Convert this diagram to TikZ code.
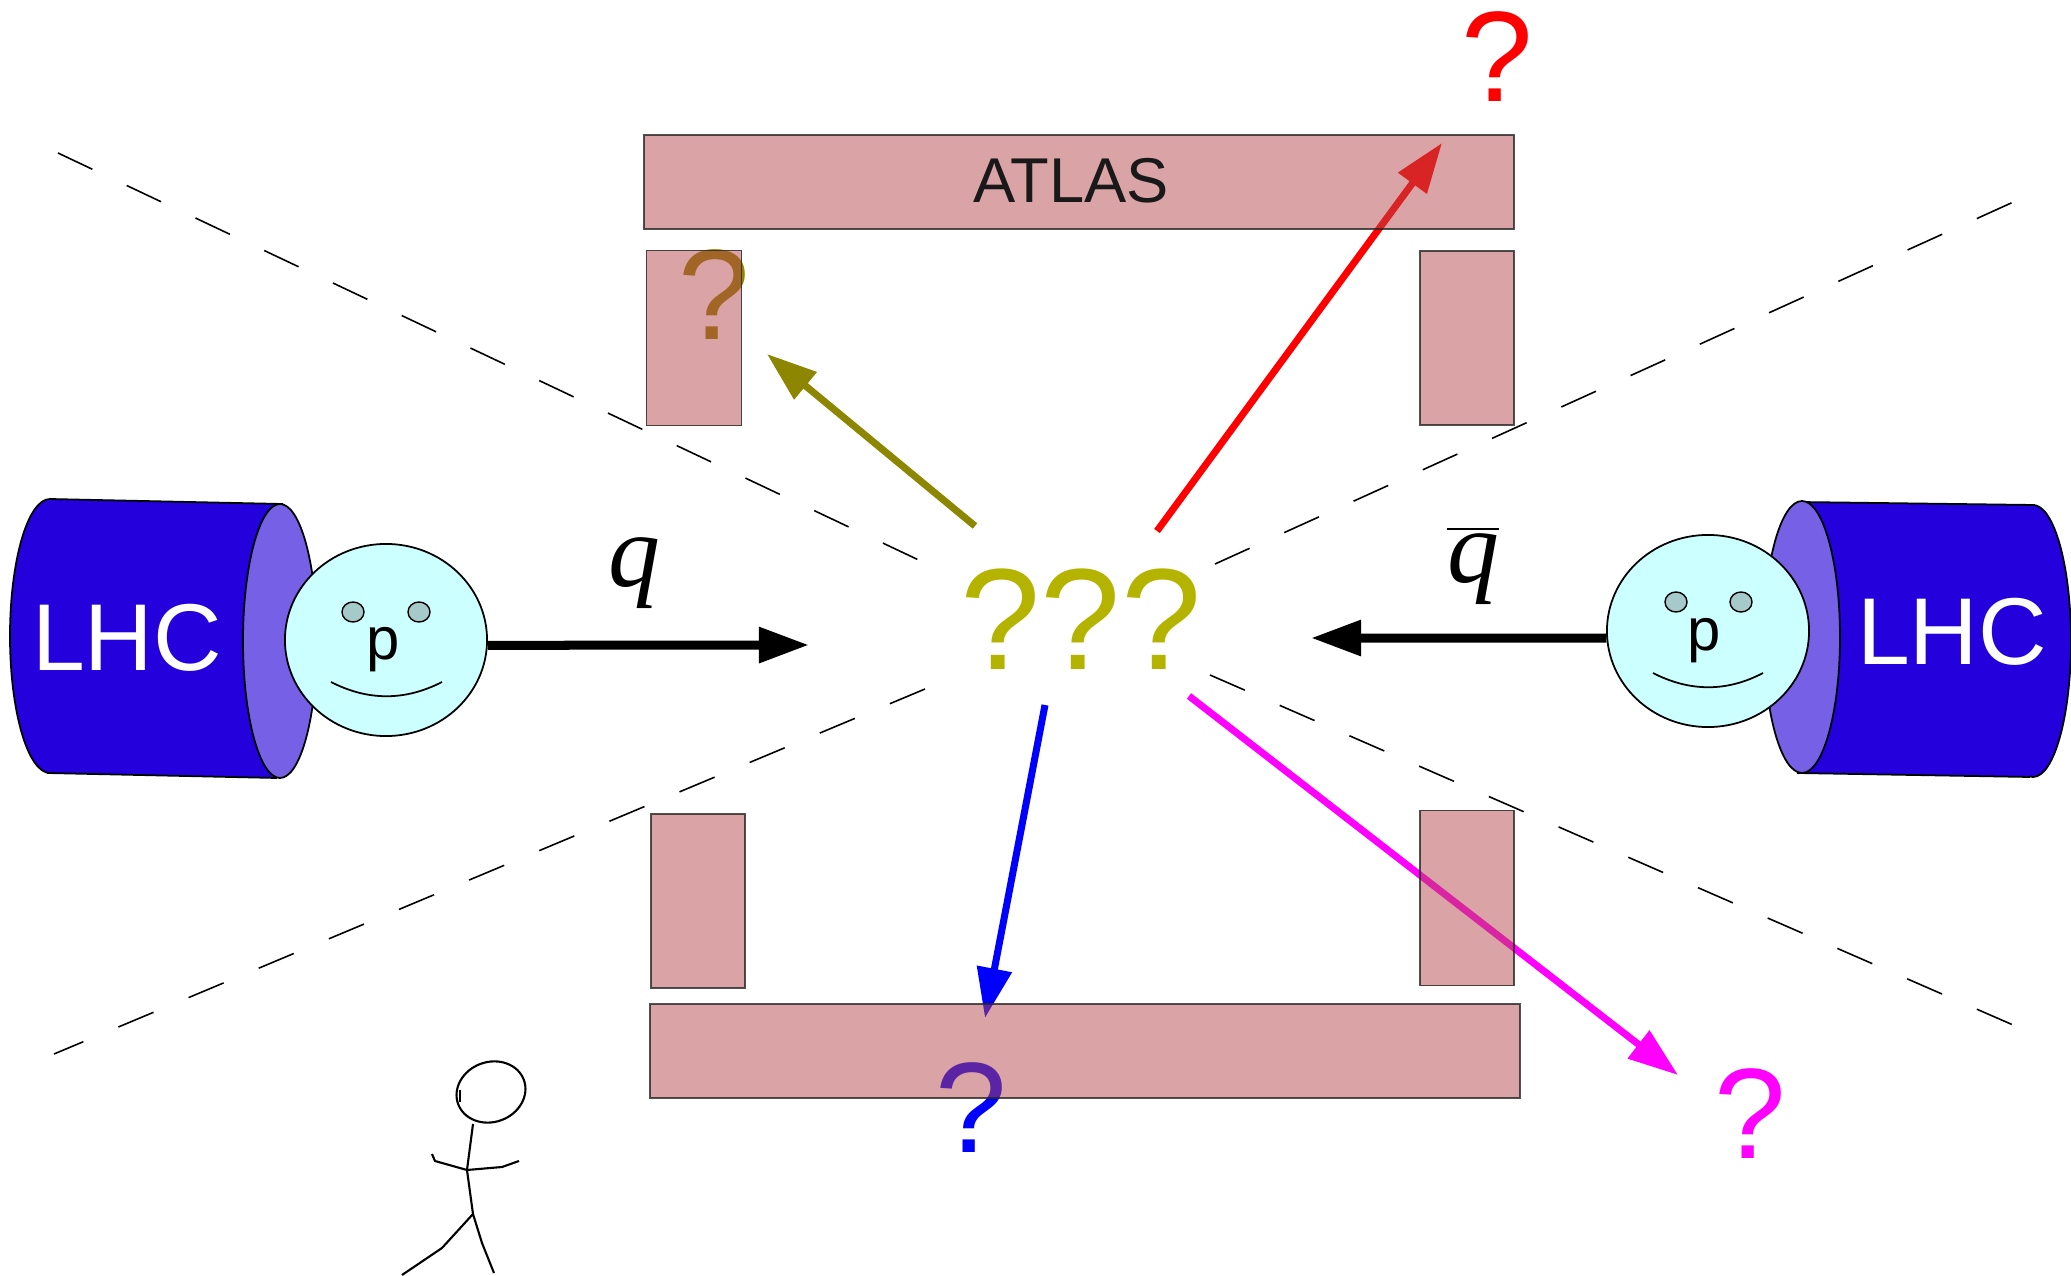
\documentclass[tikz,border=0pt]{standalone}
\usepackage{fontspec}
\setmainfont{Liberation Sans}
\newfontfamily\serif{Liberation Serif}
\usetikzlibrary{arrows.meta,shapes.geometric}

\definecolor{lhcblue}{RGB}{35,0,220}
\definecolor{lhcface}{RGB}{117,96,230}
\definecolor{proton}{RGB}{204,255,255}
\definecolor{eyecol}{RGB}{166,202,202}
\definecolor{detector}{RGB}{181,72,75}
\definecolor{unknown}{RGB}{180,180,0}
\definecolor{pink}{RGB}{255,0,255}

\begin{document}
\begin{tikzpicture}[x=0.01cm, y=-0.01cm,
% common options for the detector parts:
det/.style = {draw=black!85, line width=0.5pt, fill=detector, fill opacity=0.5,
            draw opacity=0.8, inner sep=0},
% common options for the question marks:
qmark/.style = {font=\fontsize{36.6}{40}\selectfont, inner sep=0},
% arrows in and out:
beam/.style = {line width=0.09cm, -{Triangle[length=0.5cm,width=0.34cm]}},
jet/.style = {line width=0.07cm, -{Triangle[length=0.5cm,width=0.34cm]}},
% the protons:
face/.style = {ellipse, draw, fill=proton, minimum width=2.02cm,
            minimum height=1.92cm, inner sep=0, line width=0.5pt},
lhc/.style = {text=white, font=\fontsize{27}{30}\selectfont, inner sep=0},
cut/.style = {line width=0.45pt, dash pattern=on 0.38cm off 0.38cm}]

\useasboundingbox (0,0) rectangle (2071,1276);

% dashed lines
\draw[cut] (58,153) -- (925,563);
\draw[cut] (1210,675) -- (2020,1028);
\draw[cut] (925,689) -- (54,1054);
\draw[cut] (1215,564) -- (2020,199);

% left beam pipe
\filldraw[fill=lhcblue, line width=0.5pt] (50,636) ellipse [x radius=40, y radius=137];
\fill[lhcblue] (50,499) -- (283,504) -- (277,778) -- (47,773) -- cycle;
\draw[line width=0.5pt] (50,499) -- (283,504) (47,773) -- (277,778);
\filldraw[fill=lhcface, line width=0.5pt] (280,641) ellipse [x radius=37, y radius=137];
\node[lhc] (lhcL) at (127,638) {LHC};

% right beam pipe
\filldraw[fill=lhcblue, line width=0.5pt] (2033,641) ellipse [x radius=38, y radius=136];
\fill[lhcblue] (1800,502) -- (2035,505) -- (2030,777) -- (1797,773) -- cycle;
\draw[line width=0.5pt] (1800,502) -- (2035,505) (1797,773) -- (2030,777);
\filldraw[fill=lhcface, line width=0.5pt] (1802,637) ellipse [x radius=38, y radius=136];
\node[lhc] (lhcR) at (1952,632) {LHC};

% protons
\node[face] (pL) at (386,640) {};
\filldraw[fill=eyecol, line width=0.4pt] (353,612) ellipse [x radius=11, y radius=10];
\filldraw[fill=eyecol, line width=0.4pt] (419,612) ellipse [x radius=11, y radius=10];
\draw[line width=0.5pt] (331,682) .. controls (368,701) and (405,701) .. (442,682);
\node[font=\fontsize{17}{20}\selectfont, inner sep=0] (pLtxt) at (383,650) {p};

\node[face] (pR) at (1708,631) {};
\filldraw[fill=eyecol, line width=0.4pt] (1676,602) ellipse [x radius=11, y radius=10];
\filldraw[fill=eyecol, line width=0.4pt] (1741,602) ellipse [x radius=11, y radius=10];
\draw[line width=0.5pt] (1653,673) .. controls (1690,692) and (1727,692) .. (1763,673);
\node[font=\fontsize{17}{20}\selectfont, inner sep=0] (pRtxt) at (1704,641) {p};

% quark and antiquark
\coordinate (qin) at (809,645);
\coordinate (qbarin) at (1311,638);
\draw[beam] (pL.-3) -- (qin);
\draw[beam] (pR.184) -- (qbarin);
\node[font=\fontsize{29.5}{32}\selectfont, inner sep=0] (qlab) at (634,573) {\serif\itshape q};
\node[font=\fontsize{29.5}{32}\selectfont, inner sep=0] (qbarlab) at (1473,566)
    {$\overline{\hbox{\serif\itshape q}}$};

% what comes out
\node[qmark, text=unknown, font=\fontsize{41}{44}\selectfont] (what) at (1081,619) {???};
\node[qmark, text=red] (qred) at (1497,57) {?};
\node[qmark, text=olive] (qolive) at (714,295) {?};
\node[qmark, text=blue] (qblue) at (971,1108) {?};
\node[qmark, text=pink] (qmag) at (1750,1114) {?};

\coordinate (oOl) at (975,526);
\coordinate (oRed) at (1157,531);
\coordinate (oBlue) at (1045,705);
\coordinate (oMag) at (1189,696);
\coordinate (tOl) at (767,354);
\coordinate (tRed) at (1442,143);
\coordinate (tBlue) at (985,1018);
\coordinate (tMag) at (1678,1075);
\draw[jet, olive] (oOl) -- (tOl);
\draw[jet, red] (oRed) -- (tRed);
\draw[jet, blue] (oBlue) -- (tBlue);
\draw[jet, pink] (oMag) -- (tMag);

% ATLAS
\node[det, minimum width=8.69cm, minimum height=0.94cm] (barT) at (1079,182) {};
\node[det, minimum width=0.95cm, minimum height=1.75cm] (capTL) at (694,338) {};
\node[det, minimum width=0.94cm, minimum height=1.74cm] (capTR) at (1467,338) {};
\node[det, minimum width=0.94cm, minimum height=1.74cm] (capBL) at (698,901) {};
\node[det, minimum width=0.94cm, minimum height=1.75cm] (capBR) at (1467,898) {};
\node[det, minimum width=8.69cm, minimum height=0.94cm] (barB) at (1085,1051) {};
\node[font=\fontsize{18}{20}\selectfont, text=black!90, inner sep=0] (atlas) at (1071,181) {ATLAS};

% someone watching
\draw[line width=0.6pt, rotate around={20:(491,1092)}] (491,1092) ellipse [x radius=35, y radius=30];
\draw[line width=0.6pt] (460,1090) -- (460,1102);
\draw[line width=0.6pt] (473,1124) -- (467,1170) -- (473,1214);
\draw[line width=0.6pt] (432,1154) -- (435,1161) -- (467,1170) -- (502,1167) -- (519,1161);
\draw[line width=0.6pt] (402,1275) -- (442,1248) -- (473,1214) -- (482,1243) -- (494,1273);
\end{tikzpicture}
\end{document}
